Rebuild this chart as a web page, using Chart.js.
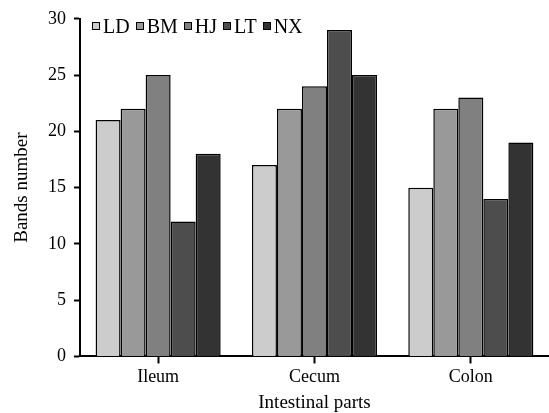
<!DOCTYPE html>
<html>
<head>
<meta charset="utf-8">
<script src="https://cdn.jsdelivr.net/npm/chart.js@4"></script>
<style>
  html, body { margin: 0; padding: 0; background: #fff; }
  #wrap { position: relative; width: 549px; height: 413px; }
  canvas { display: block; }
  #leyenda {
    position: absolute; left: 92px; top: 16px;
    display: flex; align-items: center;
    font-family: 'Liberation Serif', serif; font-size: 20px; color: #000;
    line-height: 20px; white-space: nowrap;
  }
  #leyenda span.caja {
    display: inline-block; width: 6px; height: 6px;
    border: 1.5px solid #000; margin-right: 3px;
  }
  #leyenda span.item { display: flex; align-items: center; margin-right: 6px; }
</style>
</head>
<body>
<div id="wrap">
<canvas id="myChart" width="549" height="413"></canvas>
<div id="leyenda"></div>
</div>
<script>
const partes = ['Ileum', 'Cecum', 'Colon'];
const grupos = ['LD', 'BM', 'HJ', 'LT', 'NX'];
const valoresLD = [21, 17, 15];
const valoresBM = [22, 22, 22];
const valoresHJ = [25, 24, 23];
const valoresLT = [12, 29, 14];
const valoresNX = [18, 25, 19];
const colores = ['#cccccc', '#999999', '#808080', '#4d4d4d', '#333333'];

const series = [valoresLD, valoresBM, valoresHJ, valoresLT, valoresNX];
const ctx = document.getElementById('myChart');
const fuente = { family: 'Liberation Serif', size: 18 };
const fuenteTitulo = { family: 'Liberation Serif', size: 19, lineHeight: 1.05 };

const grafico = new Chart(ctx, {
    type: 'bar',
    data: {
        labels: partes,
        datasets: grupos.map((g, i) => ({
            label: g,
            data: series[i],
            backgroundColor: colores[i],
            borderColor: '#000',
            borderWidth: 1.5,
            borderSkipped: 'bottom',
            categoryPercentage: 0.8,
            barPercentage: 1.0
        }))
    },
    options: {
        responsive: false,
        animation: false,
        layout: { padding: { top: 6, right: 0, left: 12, bottom: 0 } },
        plugins: {
            legend: { display: false },
            tooltip: { enabled: false }
        },
        scales: {
            x: {
                grid: {
                    display: true,
                    drawOnChartArea: false,
                    offset: false,
                    tickLength: 7,
                    tickWidth: 2,
                    tickColor: '#000'
                },
                border: { display: true, color: '#000', width: 2 },
                ticks: { color: '#000', font: fuente, padding: 3 },
                title: {
                    display: true,
                    text: 'Intestinal parts',
                    color: '#000',
                    font: fuenteTitulo,
                    padding: { top: 2, bottom: 0 }
                }
            },
            y: {
                min: 0,
                max: 30,
                ticks: { stepSize: 5, color: '#000', font: fuente, padding: 8 },
                grid: {
                    display: true,
                    drawOnChartArea: false,
                    tickLength: 6,
                    tickWidth: 2,
                    tickColor: '#000'
                },
                border: { display: true, color: '#000', width: 2 },
                title: {
                    display: true,
                    text: 'Bands number',
                    color: '#000',
                    font: fuenteTitulo,
                    padding: { top: 0, bottom: 8 }
                }
            }
        }
    }
});

// leyenda en HTML a partir de los datasets
const leyenda = document.getElementById('leyenda');
grafico.data.datasets.forEach((ds) => {
    const item = document.createElement('span');
    item.className = 'item';
    const caja = document.createElement('span');
    caja.className = 'caja';
    caja.style.background = ds.backgroundColor;
    item.appendChild(caja);
    item.appendChild(document.createTextNode(ds.label));
    leyenda.appendChild(item);
});
</script>
</body>
</html>
